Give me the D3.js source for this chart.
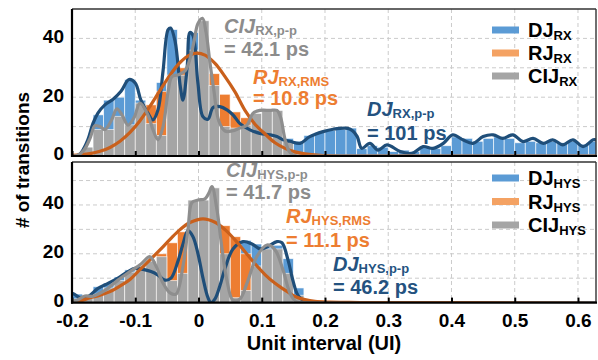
<!DOCTYPE html>
<html><head><meta charset="utf-8">
<script src="https://cdn.jsdelivr.net/npm/d3@7"></script>
<style>
body{margin:0;background:#fff}
svg{display:block}
text{font-family:"Liberation Sans",Arial,Helvetica,sans-serif;font-weight:bold}
</style>
</head><body>
<svg id="c" width="598" height="360"></svg>
<script>
// ---------- data ----------
const xTicks = [-0.2, -0.1, 0, 0.1, 0.2, 0.3, 0.4, 0.5, 0.6];
const xTickLabels = ["-0.2", "-0.1", "0", "0.1", "0.2", "0.3", "0.4", "0.5", "0.6"];
const yTicks = [0, 20, 40];
const yGrid = [10, 20, 30, 40, 50];
const binStart = -0.2, binWidth = 1 / 60;

// histogram bins (counts), bin k starts at -0.2 + k/60 UI
const djRxBars  = [0.5,3,14,19,20,26,19,13,25,43,22,42,28,15,16,14,11,8.5,7.5,7,6,5,7,8,8.7,9,9.5,2.5,3.5,3,1.5,2,1.5,3,2.5,3.5,6.5,6,5,6,6.5,6,4.5,5,4.5,5,4.5,5,4,5];
const rjRxBars  = [0.3,0.7,1.5,2.8,5,8,12,17.4,22,27,30,33,34,28,21,15,13,10.5,7.5,4.5,2.5,1.2,0.5,0.2];
const cijRxBars = [0.3,3,9,9,13.5,10.6,18,11,7,27.5,27.5,36,46,24,10,9.5,10.5,14.5,15.5,15.5,5,0.5];

const djHysBars  = [3.5,2.2,6.5,8,10.5,13.4,14,12.5,11.5,10,20,28,18,2,10,22,25.5,24,22.5,23.5,18,6,1];
const rjHysBars  = [0.5,1,2,3.5,5.5,8.5,12,16,20,24.5,29,32,34,34,31.5,27,20,13.5,8.5,5,3.5,2,1,0.5];
const cijHysBars = [1.5,2.4,3.5,6,9,12.5,15,17,18.8,9,12,42,42,47,20,2,5,15,22,22,12,3,0.3];

// fitted / smoothed curves (UI, count)
const djRxCurveX = [-0.2,-0.1905,-0.186,-0.175,-0.167,-0.159,-0.148,-0.135,-0.1225,-0.11,-0.1,-0.091,-0.08,-0.072,-0.064,-0.056,-0.048,-0.044,-0.037,-0.029,-0.0245,-0.018,-0.0135,-0.0087,-0.001,0.007,0.015,0.023,0.034,0.045,0.0545,0.0656,0.0814,0.097,0.113,0.124,0.1336,0.1447,0.1605,0.176,0.197,0.213,0.236,0.244,0.251,0.258,0.271,0.284,0.298,0.319,0.3375,0.355,0.371,0.387,0.402,0.418,0.434,0.45,0.466,0.481,0.497,0.513,0.529,0.545,0.56,0.576,0.592,0.608,0.624,0.6285];
const djRxCurveY = [0,0.3,1,5.5,11,14.6,17.4,19.3,22,26,24.8,19,14.6,12.3,15.7,29,43,43.5,39,24,19,30,42,41,25,13.4,12.5,16.5,16.8,15.7,14,11,8.9,7.7,7.2,6.6,5.5,5,4.3,6.6,8.3,9.1,9.4,8.5,6.6,2.6,4.3,2,3.8,1.5,0.9,3.2,2.6,4.3,7.2,5.5,4.3,6.6,7.2,6,7.2,4.9,6,4.3,5.5,3.8,5.5,3.2,5.5,5.5];

const rjRxCurveX = [-0.2,-0.1874,-0.1715,-0.1557,-0.1399,-0.1241,-0.1083,-0.0925,-0.0767,-0.0609,-0.045,-0.0292,-0.0134,-0.0024,0.0103,0.0261,0.0419,0.0577,0.0735,0.0893,0.1051,0.121,0.1368,0.1526,0.1684,0.1921,0.2237,0.6285];
const rjRxCurveY = [0.2,0.4,0.8,1.6,2.9,5,8,12,16.9,22.3,27.5,31.8,34.4,35,34.3,31.5,27,21.8,15.5,10.8,7.5,4.5,2.6,1.4,0.7,0.2,0,0];

const cijRxCurveX = [-0.2,-0.1905,-0.181,-0.1715,-0.1636,-0.156,-0.148,-0.138,-0.129,-0.121,-0.1115,-0.102,-0.0925,-0.08,-0.072,-0.064,-0.056,-0.048,-0.042,-0.0324,-0.021,-0.0135,-0.007,-0.001,0.0063,0.012,0.018,0.0245,0.032,0.042,0.053,0.0656,0.0767,0.086,0.097,0.113,0.124,0.13,0.137,0.1447,0.156,0.192,0.6285];
const cijRxCurveY = [0,0.3,2,6,10.3,10,9,12,16,14,10.5,13,18,14,9,5.5,10,22,27,27.6,29,33,39,45,46.8,42,32,22,12,8.5,8.5,9.5,10.5,14.5,15.5,15.5,15.5,13,5.5,1.2,0,0,0];

const djHysCurveX = [-0.2,-0.1937,-0.1858,-0.1747,-0.1589,-0.1431,-0.1273,-0.1115,-0.1004,-0.0877,-0.0751,-0.064,-0.053,-0.0435,-0.0324,-0.0245,-0.0166,-0.0087,-0.0008,0.0071,0.015,0.0198,0.0261,0.034,0.0419,0.0545,0.0704,0.0846,0.0972,0.1099,0.1241,0.132,0.1415,0.1494,0.1573,0.1684,0.1795,0.6285];
const djHysCurveY = [3.8,3,1.7,2.4,5.8,7.9,10,12.7,14,13.6,12.7,11.3,9.2,10,17,24,29.5,27,20,10,2,0,1.5,7,14,22,25,24,22,23,25,24.5,17.5,9,3,0.5,0,0];

const rjHysCurveX = [-0.2,-0.1874,-0.1715,-0.1557,-0.1399,-0.1241,-0.1083,-0.0925,-0.0767,-0.0609,-0.045,-0.0292,-0.0134,0.0071,0.0261,0.0419,0.0577,0.0735,0.0893,0.1051,0.121,0.1368,0.1526,0.1684,0.1842,0.2079,0.2316,0.2553,0.6285];
const rjHysCurveY = [0.4,0.7,2,3,4.5,6.8,9.5,13.5,17.5,21.6,25.9,29.9,32.8,34.3,32.9,29.9,25.7,20.8,15.9,11.5,7.9,5.1,2.5,1.2,0.5,0.2,0.1,0,0];

const cijHysCurveX = [-0.2,-0.192,-0.1795,-0.167,-0.148,-0.1273,-0.1083,-0.0909,-0.0767,-0.0672,-0.0561,-0.045,-0.0356,-0.0245,-0.0166,-0.0103,-0.0008,0.0103,0.0166,0.0213,0.0292,0.0372,0.045,0.0545,0.0656,0.0767,0.0925,0.1083,0.121,0.1336,0.1447,0.1542,0.1684,0.6285];
const cijHysCurveY = [0.5,1,2.7,2.6,5,9.2,12.7,15.8,18.8,15,8,4,3.5,15,30,41,42,42.5,45,47.5,38,22,9,1,1.5,8,19,23.6,21.6,13.4,3.8,0.4,0,0];

// ---------- styling ----------
const C = {
  djBar: "#5b9bd5", rjBar: "#ed7d31", cijBar: "#a5a5a5",
  djLine: "#1f4e79", rjLine: "#c9601c", cijLine: "#8e8e8e",
  djLeg: "#5b9bd5", rjLeg: "#f4a263", cijLeg: "#a5a5a5",
  djTxt: "#24527f", rjTxt: "#ed7d31", cijTxt: "#8c8c8c"
};

const svg = d3.select("#c");
svg.append("rect").attr("width", 598).attr("height", 360).attr("fill", "#fff");

const x = d3.scaleLinear().domain([-0.2, 0.6285]).range([72, 596]);

function pts(xs, ys) { return xs.map((v, i) => [v, ys[i]]); }

function drawPanel(cfg) {
  const y = d3.scaleLinear().domain([0, cfg.max]).range([cfg.bottom, cfg.top]);
  const g = svg.append("g");
  const clipId = "clip" + cfg.id;
  svg.append("clipPath").attr("id", clipId).append("rect")
    .attr("x", 72).attr("y", cfg.top).attr("width", 596 - 72).attr("height", cfg.bottom - cfg.top);

  // grid
  g.selectAll(".vg").data(xTicks.slice(1)).enter().append("line")
    .attr("x1", d => x(d)).attr("x2", d => x(d)).attr("y1", cfg.top).attr("y2", cfg.bottom)
    .attr("stroke", "#cbcbcb").attr("stroke-width", 1).attr("stroke-dasharray", "4,3");
  g.selectAll(".hg").data(yGrid.filter(v => v < cfg.max)).enter().append("line")
    .attr("x1", 72).attr("x2", 596).attr("y1", d => y(d)).attr("y2", d => y(d))
    .attr("stroke", "#cbcbcb").attr("stroke-width", 1).attr("stroke-dasharray", "4,3");

  const plot = g.append("g").attr("clip-path", `url(#${clipId})`);
  function bars(data, color) {
    plot.append("g").selectAll("rect").data(data).enter().append("rect")
      .attr("x", (d, i) => x(binStart + i * binWidth))
      .attr("width", (d, i) => x(binStart + (i + 1) * binWidth) - x(binStart + i * binWidth))
      .attr("y", d => y(d)).attr("height", d => y(0) - y(d))
      .attr("fill", color).attr("stroke", "#fff").attr("stroke-width", 0.8).attr("stroke-opacity", 0.75);
  }
  bars(cfg.bars.dj, C.djBar);
  bars(cfg.bars.rj, C.rjBar);
  bars(cfg.bars.cij, C.cijBar);

  const line = d3.line().x(d => x(d[0])).y(d => y(d[1])).curve(d3.curveCatmullRom.alpha(0.5));
  function curve(p, color) {
    plot.append("path").attr("d", line(p)).attr("fill", "none").attr("stroke", color)
      .attr("stroke-width", 3.2).attr("stroke-linejoin", "round").attr("stroke-linecap", "round");
  }
  curve(cfg.curves.dj, C.djLine);
  curve(cfg.curves.rj, C.rjLine);
  curve(cfg.curves.cij, C.cijLine);

  // frame
  g.append("line").attr("x1", 72).attr("x2", 596).attr("y1", cfg.top).attr("y2", cfg.top).attr("stroke", "#333").attr("stroke-width", 1.4);
  g.append("line").attr("x1", 596).attr("x2", 596).attr("y1", cfg.top).attr("y2", cfg.bottom).attr("stroke", "#333").attr("stroke-width", 1.4);

  // x axis
  const xa = d3.axisBottom(x).tickValues(xTicks).tickSize(-5).tickPadding(11)
    .tickFormat((d, i) => cfg.showX ? xTickLabels[i] : "");
  const xg = g.append("g").attr("transform", `translate(0,${cfg.bottom})`).call(xa);
  xg.select(".domain").remove();
  xg.selectAll(".tick line").attr("stroke", "#000").attr("stroke-width", 2);
  xg.selectAll(".tick text").attr("font-size", 19).attr("fill", "#000")
    .attr("font-family", '"Liberation Sans",Arial,sans-serif').attr("font-weight", "bold");
  g.append("line").attr("x1", 71).attr("x2", 597).attr("y1", cfg.bottom).attr("y2", cfg.bottom).attr("stroke", "#000").attr("stroke-width", 2.2);

  // y axis
  const ya = d3.axisLeft(y).tickValues(yTicks).tickSize(0).tickPadding(8).tickFormat(d3.format("d"));
  const yg = g.append("g").attr("transform", "translate(72,0)").call(ya);
  yg.select(".domain").remove();
  yg.selectAll(".tick text").attr("font-size", 19).attr("fill", "#000").attr("dy", "0.2em")
    .attr("font-family", '"Liberation Sans",Arial,sans-serif').attr("font-weight", "bold");
  g.append("line").attr("x1", 72).attr("x2", 72).attr("y1", cfg.top).attr("y2", cfg.bottom + 1).attr("stroke", "#000").attr("stroke-width", 2.2);

  // legend
  cfg.legend.forEach((L, i) => {
    const cy = cfg.legY[i];
    g.append("line").attr("x1", 492).attr("x2", 519).attr("y1", cy).attr("y2", cy)
      .attr("stroke", L.color).attr("stroke-width", 7);
    const t = g.append("text").attr("x", 528).attr("y", cy + 7).attr("font-size", 20).attr("fill", "#000");
    t.append("tspan").text(L.main);
    t.append("tspan").attr("font-size", 13).attr("dy", 3).text(L.sub);
  });

  // annotations
  cfg.notes.forEach(n => {
    const t = g.append("text").attr("x", n.x).attr("y", n.y1).attr("font-size", 20).attr("fill", n.color);
    t.append("tspan").attr("font-style", "italic").text(n.main);
    t.append("tspan").attr("font-size", 13).attr("dy", 1.5).text(n.sub);
    g.append("text").attr("x", n.x).attr("y", n.y2).attr("font-size", 20).attr("fill", n.color).text(n.value);
  });
}

drawPanel({
  id: "top", top: 9, bottom: 156, max: 50, showX: false,
  bars: { dj: djRxBars, rj: rjRxBars, cij: cijRxBars },
  curves: { dj: pts(djRxCurveX, djRxCurveY), rj: pts(rjRxCurveX, rjRxCurveY), cij: pts(cijRxCurveX, cijRxCurveY) },
  legY: [30, 53, 76],
  legend: [
    { main: "DJ", sub: "RX", color: C.djLeg },
    { main: "RJ", sub: "RX", color: C.rjLeg },
    { main: "CIJ", sub: "RX", color: C.cijLeg }
  ],
  notes: [
    { x: 224, y1: 33, y2: 56, main: "CIJ", sub: "RX,p-p", value: "= 42.1 ps", color: C.cijTxt },
    { x: 253, y1: 84, y2: 105, main: "RJ", sub: "RX,RMS", value: "= 10.8 ps", color: C.rjTxt },
    { x: 367, y1: 116, y2: 140, main: "DJ", sub: "RX,p-p", value: "= 101 ps", color: C.djTxt }
  ]
});

drawPanel({
  id: "bot", top: 162, bottom: 302.6, max: 57.6, showX: true,
  bars: { dj: djHysBars, rj: rjHysBars, cij: cijHysBars },
  curves: { dj: pts(djHysCurveX, djHysCurveY), rj: pts(rjHysCurveX, rjHysCurveY), cij: pts(cijHysCurveX, cijHysCurveY) },
  legY: [178, 201.5, 225],
  legend: [
    { main: "DJ", sub: "HYS", color: C.djLeg },
    { main: "RJ", sub: "HYS", color: C.rjLeg },
    { main: "CIJ", sub: "HYS", color: C.cijLeg }
  ],
  notes: [
    { x: 226, y1: 177, y2: 199, main: "CIJ", sub: "HYS,p-p", value: "= 41.7 ps", color: C.cijTxt },
    { x: 286, y1: 223, y2: 247, main: "RJ", sub: "HYS,RMS", value: "= 11.1 ps", color: C.rjTxt },
    { x: 333, y1: 271, y2: 294, main: "DJ", sub: "HYS,p-p", value: "= 46.2 ps", color: C.djTxt }
  ]
});

// axis titles
svg.append("text").attr("x", 324).attr("y", 350).attr("text-anchor", "middle")
  .attr("font-size", 20).attr("fill", "#000").text("Unit interval (UI)");
svg.append("text").attr("transform", "translate(29,160) rotate(-90)").attr("text-anchor", "middle")
  .attr("font-size", 19).attr("fill", "#000").text("# of transitions");
</script>
</body></html>
